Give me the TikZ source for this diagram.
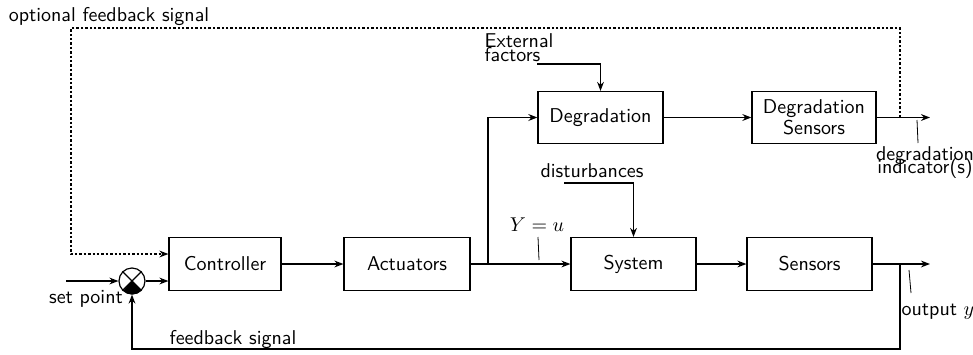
\documentclass[tikz,border=0pt]{standalone}
\usetikzlibrary{arrows.meta}
\begin{document}
\begin{tikzpicture}[x=0.5pt,y=-0.5pt, font=\sffamily, semithick,
  >={Stealth[length=4.5pt,width=3.4pt]},
  box/.style={draw, semithick, minimum height=26.5pt, align=center, inner sep=0pt},
  pointer/.style={thin},
  dotline/.style={dash pattern=on 1.2pt off 1pt}]
\useasboundingbox (0,0) rectangle (973,354);
% blocks
\node[box, minimum width=56pt] (ctrl) at (225,264) {Controller};
\node[box, minimum width=63pt] (act) at (407,264) {Actuators};
\node[box, minimum width=62.5pt] (sys) at (633.5,264) {System};
\node[box, minimum width=62.5pt] (sens) at (809.5,264) {Sensors};
\node[box, minimum width=62.5pt, minimum height=26pt] (deg) at (600.5,117.5) {Degradation};
\node[box, minimum width=62pt, minimum height=26pt] (dsens) at (814,117.5) {Degradation\\[-1.5pt]Sensors};
% summing junction
\node[draw, semithick, circle, minimum size=13pt, inner sep=0pt] (sum) at (132,281) {};
\fill (sum.center) -- (sum.south east) arc[start angle=-45, end angle=-135, radius=6.5pt] -- cycle;
\draw (sum.north west) -- (sum.south east);
\draw (sum.north east) -- (sum.south west);
% coordinates
\coordinate (in) at (66,281);
\coordinate (j1) at (488,264);
\coordinate (dout) at (930,117.5);
\coordinate (yout) at (930,264);
\coordinate (fbj) at (900,264);
\coordinate (fbb) at (132,349);
\coordinate (dj) at (900,117.5);
\coordinate (dtl) at (71,28);
\coordinate (dc) at (71,254);
\coordinate (ext1) at (537,64);
\coordinate (dist1) at (564,183);
% main path
\draw[->] (in) -- (sum.west);
\draw[->] (sum.east) -- (sum.east -| ctrl.west);
\draw[->] (ctrl.east) -- (act.west);
\draw[->] (act.east) -- (sys.west);
\draw[->, thick] (j1) |- (deg.west);
\draw[->, thick] (deg.east) -- (dsens.west);
\draw[->, thick] (dsens.east) -- (dout);
\draw[->] (sys.east) -- (sens.west);
\draw[->, thick] (sens.east) -- (yout);
% feedback
\draw[->] (fbj) |- (fbb) -- (sum.south);
\draw[->, dotline] (dj) |- (dtl) -- (dc) -- (dc -| ctrl.west);
% external inputs
\node[align=left, anchor=west, inner sep=0pt] (ext) at (484,48) {External\\[-5pt]factors};
\draw[->] (ext1) -| (deg.north);
\node (dist) at (592,171) {disturbances};
\draw[->] (dist1) -| (sys.north);
% labels
\node (ofs) at (109,17) {optional feedback signal};
\node (sp) at (86,299) {set point};
\node (fbs) at (233,340) {feedback signal};
\node (yu) at (537,225) {$Y=u$};
\coordinate (yu1) at (538,237);
\coordinate (yu2) at (539,260);
\draw[pointer] (yu1) -- (yu2);
\node[align=center, inner sep=0pt] (dind) at (925,163) {degradation\\[-5.5pt]indicator(s)};
\coordinate (di1) at (917,120);
\coordinate (di2) at (918,143);
\draw[pointer] (di1) -- (di2);
\node[anchor=west, inner sep=0pt] (outy) at (901,312) {output $y$};
\coordinate (oy1) at (909,270);
\coordinate (oy2) at (911,293);
\draw[pointer] (oy1) -- (oy2);
\end{tikzpicture}
\end{document}
